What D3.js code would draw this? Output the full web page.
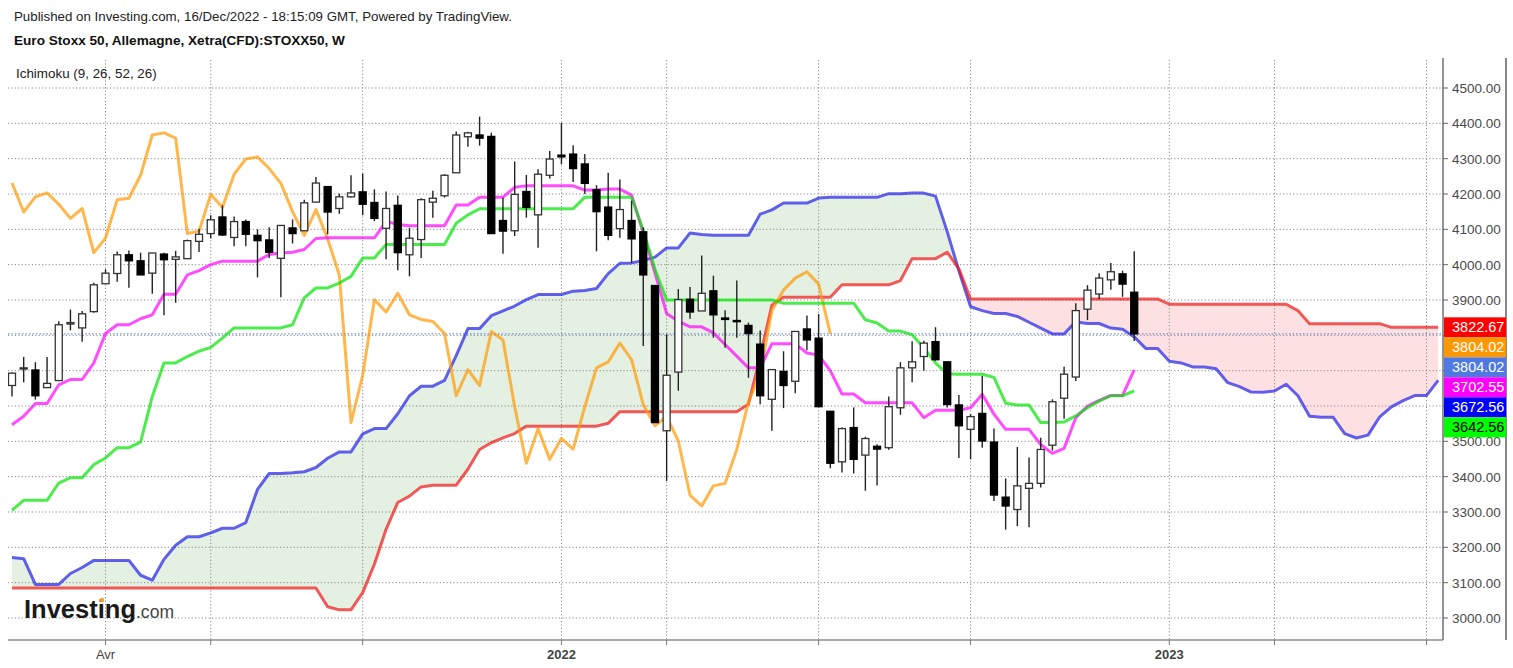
<!DOCTYPE html>
<html>
<head>
<meta charset="utf-8">
<script src="https://cdn.jsdelivr.net/npm/d3@7"></script>
<style>
  body { margin:0; background:#fff; }
  svg text { font-family: Arial, "Liberation Sans", sans-serif; }
</style>
</head>
<body>
<svg id="chart" width="1513" height="668"></svg>
<script>
// weekly candles, Feb 2021 -> Dec 2022
var opens  = [3658,3705,3702,3652,3672,3832,3821,3867,3946,3975,4028,4011,3976,4030,4015,4017,4066,4088,4135,4077,
              4122,4083,4070,4018,4104,4096,4177,4221,4159,4192,4206,4176,4103,4168,4028,4071,4177,4195,4260,4362,
              4367,4363,4125,4096,4207,4141,4253,4310,4313,4285,4212,4163,4102,4125,4093,3941,3530,3696,3902,3869,
              3926,3849,3842,3828,3775,3619,3698,3670,3818,3792,3585,3442,3539,3461,3486,3482,3595,3708,3740,3782,
              3725,3603,3534,3579,3498,3342,3307,3367,3381,3489,3622,3682,3874,3917,3957,3974,3922];
var highs  = [3695,3739,3724,3739,3840,3873,3869,3949,3987,4037,4040,4034,4033,4034,4039,4071,4102,4140,4168,4136,
              4128,4100,4106,4111,4128,4184,4248,4221,4201,4253,4258,4213,4207,4196,4104,4188,4209,4256,4377,4376,
              4419,4373,4190,4292,4254,4270,4322,4401,4338,4313,4225,4260,4241,4181,4106,3941,3803,3931,3937,4026,
              3969,3871,3955,3836,3814,3703,3755,3811,3856,3860,3585,3540,3596,3513,3492,3627,3724,3783,3785,3823,
              3725,3631,3577,3685,3536,3395,3484,3454,3510,3619,3711,3891,3942,3976,4005,3983,4038];
var lows   = [3627,3667,3618,3652,3672,3814,3782,3864,3946,3952,3935,3971,3918,3857,3892,4017,4036,4074,4081,4052,
              4052,3964,4019,3908,4060,4096,4177,4086,4144,4190,4140,4123,4015,3984,3967,4019,4133,4190,4260,4334,
              4337,4088,4031,4081,4133,4048,4244,4284,4234,4200,4038,4069,4076,4005,3770,3553,3388,3643,3847,3869,
              3793,3765,3793,3680,3605,3530,3594,3636,3758,3598,3424,3412,3409,3360,3375,3476,3575,3667,3700,3728,
              3596,3453,3449,3482,3331,3250,3260,3257,3369,3474,3564,3671,3843,3903,3929,3909,3784];
var closes = [3693,3708,3629,3664,3830,3836,3861,3943,3976,4028,4011,3971,4033,4014,4022,4068,4086,4127,4084,4122,
              4086,4068,4035,4111,4088,4175,4231,4149,4192,4203,4171,4131,4159,4034,4075,4184,4188,4253,4367,4373,
              4358,4088,4095,4199,4162,4256,4299,4305,4272,4230,4150,4083,4156,4073,3971,3553,3687,3901,3866,3919,
              3858,3845,3839,3805,3629,3703,3658,3811,3787,3598,3438,3536,3449,3508,3478,3598,3708,3725,3778,3731,
              3604,3544,3570,3501,3348,3317,3374,3381,3477,3612,3690,3870,3928,3962,3980,3945,3804.02];

// Ichimoku (9, 26, 52, 26) lines as drawn
var tenkan = [3547,3571,3607,3607,3660,3675,3675,3722,3805,3830,3830,3847,3858,3916,3916,3971,3983,
              4000,4010,4010,4010,4010,4029,4033,4035,4043,4074,4076,4076,4076,4076,4076,
              4122,4114,4110,4110,4110,4110,4169,4169,4191,4191,4191,4219,4223,4223,4223,4223,4223,4211,4211,4214,4214,4197,4090,3977,
              3862,3840,3824,3824,3807,3774,3741,3708,3708,3776,
              3776,3776,3750,3744,3700,3634,3634,3609,3609,3609,3609,3609,3567,3588,3588,3588,3595,3633,3577,3534,3534,3534,
              3491,3466,3480,3567,3600,3616,3630,3630,3702.55];
var kijun  = [3305,3333,3333,3333,3382,3397,3397,3434,3453,3482,3482,3498,
              3627,3722,3722,3740,3755,3766,3792,3821,3821,3821,3821,3821,3830,
              3906,3934,3934,3948,3967,4019,4019,4057,4057,4057,4057,4057,4057,4117,4141,
              4158,4158,4158,4158,4158,4158,4158,4158,4158,4191,4191,4191,4191,4191,4097,3988,
              3900,3900,3900,3900,3900,3900,3900,3900,3900,3900,
              3891,3891,3891,3891,3891,3891,3891,
              3844,3835,3812,3812,3802,3765,3722,
              3691,3690,3690,3690,3681,3608,3603,3603,3553,3553,3555,3572,3595,3614,3629,3629,3642.56];
// leading span A before the first visible bar (the rest follows from tenkan/kijun)
var spanAHead = [3171,3168,3095,3095,3095,3126,3143,3163,3163,3163,3163,3121,3107,3166,3206,3230,3230,3241,3254,3254,
                 3270,3364,3409,3409,3411,3414];
var spanB  = [3085,3085,3085,3085,3085,3085,3085,3085,3085,3085,3085,3085,3085,3085,3085,3085,3085,3085,3085,3085,
              3085,3085,3085,3085,3085,3085,3085,
              3032,3023,3023,3072,3152,3251,3327,3345,3371,3376,3376,3376,3421,3477,3496,3510,3522,
              3543,3543,3543,3543,3543,3543,3543,3551,
              3584,3584,3584,3584,3584,3584,3584,3584,3584,3584,3584,
              3605,3740,3885,3908,3908,3908,3908,3908,3943,3943,3943,3943,3943,3955,4017,4017,4017,4035,3988,
              3903,3903,3903,3903,3903,3903,3903,3903,3903,3903,3903,3903,3903,3903,3903,3903,3903,
              3888,3888,3888,3888,3888,3888,3888,3888,3888,3888,3888,3870,
              3833,3833,3833,3833,3833,3833,3833,3822.67,3822.67,3822.67,3822.67,3822.67];

var priceTicks = [3000,3100,3200,3300,3400,3500,3600,3700,3800,3900,4000,4100,4200,4300,4400,4500];
var timeTickIdx = [8,17,30,47,56,69,82,99,108,121];
var timeTickLabels = ["Avr","","","2022","","","","2023","",""];

var shift = 26;
var spanA = spanAHead.concat(tenkan.map(function(t,i){ return (t+kijun[i])/2; }));
var chikou = closes.slice(shift);

var svg = d3.select("#chart");
var pLeft = 8, pRight = 1443, pTop = 58, pBottom = 640;

var x = d3.scaleLinear().domain([0,122]).range([12, 12+122*11.69]);
var y = d3.scaleLinear().domain([3000,4500]).range([618,88]);

var defs = svg.append("defs");
defs.append("clipPath").attr("id","plot")
  .append("rect").attr("x",pLeft).attr("y",pTop).attr("width",pRight-pLeft).attr("height",pBottom-pTop);

// cloud fill, split by which span is on top
var bandArea = d3.area().x(function(d,i){return x(i);}).y0(function(d){return y(d[0]);}).y1(function(d){return y(d[1]);});
var band = spanA.map(function(a,i){ return [a, spanB[i]]; });
defs.append("clipPath").attr("id","aboveB").append("path")
  .attr("d", d3.area().x(function(d,i){return x(i);}).y0(function(d){return y(d);}).y1(0)(spanB));
defs.append("clipPath").attr("id","belowB").append("path")
  .attr("d", d3.area().x(function(d,i){return x(i);}).y0(function(d){return y(d);}).y1(668)(spanB));

var plot = svg.append("g").attr("clip-path","url(#plot)");
plot.append("g").attr("clip-path","url(#aboveB)").append("path").attr("d",bandArea(band)).attr("fill","#e4f0e2");
plot.append("g").attr("clip-path","url(#belowB)").append("path").attr("d",bandArea(band)).attr("fill","#fde1e2");

// grid
plot.append("g").selectAll("line").data(priceTicks).enter().append("line")
  .attr("x1",pLeft).attr("x2",pRight).attr("y1",function(d){return y(d);}).attr("y2",function(d){return y(d);})
  .attr("stroke","#8a8a8a").attr("stroke-dasharray","1.2,2.2");
plot.append("g").selectAll("line").data(timeTickIdx).enter().append("line")
  .attr("x1",function(d){return x(d);}).attr("x2",function(d){return x(d);}).attr("y1",60).attr("y2",pBottom)
  .attr("stroke","#8a8a8a").attr("stroke-dasharray","1.2,2.2");

// last price line
plot.append("line").attr("x1",pLeft).attr("x2",pRight).attr("y1",y(3804.02)).attr("y2",y(3804.02))
  .attr("stroke","#5078e0").attr("stroke-dasharray","1.5,2");

// lines
var line = d3.line().x(function(d,i){return x(i);}).y(function(d){return y(d);});
function drawLine(data, color, op){
  plot.append("path").attr("d",line(data)).attr("fill","none").attr("stroke",color)
    .attr("stroke-width",3).attr("stroke-opacity",op).attr("stroke-linejoin","round");
}
drawLine(spanA, "#2020e8", 0.7);
drawLine(spanB, "#ee1515", 0.7);
drawLine(chikou, "#ff9800", 0.7);
drawLine(tenkan, "#ff00ff", 0.7);
drawLine(kijun, "#00e400", 0.7);

// candles
var cw = 7;
var candles = plot.append("g").selectAll("g").data(closes).enter().append("g");
candles.append("line")
  .attr("x1",function(d,i){return x(i);}).attr("x2",function(d,i){return x(i);})
  .attr("y1",function(d,i){return y(highs[i]);}).attr("y2",function(d,i){return y(lows[i]);})
  .attr("stroke","#222").attr("stroke-width",1.4);
candles.append("rect")
  .attr("x",function(d,i){return x(i)-cw/2;}).attr("width",cw)
  .attr("y",function(d,i){return y(Math.max(opens[i],d));})
  .attr("height",function(d,i){return Math.max(1.2, Math.abs(y(opens[i])-y(d)));})
  .attr("fill",function(d,i){return d>=opens[i] ? "#fff" : "#000";})
  .attr("stroke",function(d,i){return d>=opens[i] ? "#333" : "#000";})
  .attr("stroke-width",1.3);

// axes frame
svg.append("line").attr("x1",pLeft).attr("x2",pRight).attr("y1",pBottom).attr("y2",pBottom).attr("stroke","#8c8c8c").attr("stroke-width",1.6);
svg.append("line").attr("x1",pRight).attr("x2",pRight).attr("y1",pTop).attr("y2",pBottom).attr("stroke","#666").attr("stroke-width",1.4);
svg.append("line").attr("x1",1506).attr("x2",1506).attr("y1",pTop).attr("y2",pBottom).attr("stroke","#555").attr("stroke-width",1.4);

// value boxes on the right (stacked downwards)
var boxes = [
  {v:3822.67, fill:"#ff0000", txt:"#fff"},
  {v:3804.02, fill:"#ff9800", txt:"#fff"},
  {v:3804.02, fill:"#4f78e0", txt:"#fff"},
  {v:3702.55, fill:"#ff00ff", txt:"#fff"},
  {v:3672.56, fill:"#0000ff", txt:"#fff"},
  {v:3642.56, fill:"#00ff00", txt:"#000"}
];
var prev = -100;
boxes.forEach(function(b){ b.top = Math.max(y(b.v)-10, prev+20); prev = b.top; });
var boxTop = boxes[0].top, boxBottom = prev+20;

// price axis (labels hidden behind the boxes are skipped)
var visTicks = priceTicks.filter(function(d){ return y(d)+6 < boxTop || y(d) > boxBottom; });
var yAx = svg.append("g");
yAx.selectAll("line").data(priceTicks).enter().append("line")
  .attr("x1",pRight).attr("x2",pRight+5).attr("y1",function(d){return y(d);}).attr("y2",function(d){return y(d);})
  .attr("stroke","#666");
yAx.selectAll("text").data(visTicks).enter().append("text")
  .attr("x",1452).attr("y",function(d){return y(d)+5;}).attr("font-size",13.5).attr("fill","#4a4a4a")
  .text(function(d){return d3.format(".2f")(d);});

boxes.forEach(function(b){
  svg.append("rect").attr("x",pRight+1).attr("y",b.top).attr("width",1506-pRight-1).attr("height",20).attr("fill",b.fill);
  svg.append("text").attr("x",1452).attr("y",b.top+15).attr("font-size",14.5).attr("fill",b.txt).text(d3.format(".2f")(b.v));
});

// time axis
var xAx = svg.append("g");
xAx.selectAll("line").data(timeTickIdx).enter().append("line")
  .attr("x1",function(d){return x(d);}).attr("x2",function(d){return x(d);}).attr("y1",pBottom).attr("y2",pBottom+5)
  .attr("stroke","#777");
xAx.selectAll("text").data(timeTickIdx).enter().append("text")
  .attr("x",function(d){return x(d);}).attr("y",659).attr("text-anchor","middle").attr("font-size",13)
  .attr("font-weight",function(d,i){return timeTickLabels[i]=="Avr" ? "normal" : "bold";})
  .attr("fill","#444").text(function(d,i){return timeTickLabels[i];});

// titles
svg.append("text").attr("x",14).attr("y",21).attr("font-size",13.3).attr("fill","#222")
  .text("Published on Investing.com, 16/Dec/2022 - 18:15:09 GMT, Powered by TradingView.");
svg.append("text").attr("x",14).attr("y",45).attr("font-size",13.6).attr("font-weight","bold").attr("fill","#111")
  .text("Euro Stoxx 50, Allemagne, Xetra(CFD):STOXX50, W");
svg.append("text").attr("x",16).attr("y",78).attr("font-size",13.4).attr("fill","#222")
  .text("Ichimoku (9, 26, 52, 26)");

// investing.com mark
svg.append("text").attr("x",24).attr("y",618).attr("font-size",25).attr("font-weight","bold").attr("fill","#1a1a1a")
  .attr("textLength",112).attr("lengthAdjust","spacingAndGlyphs").text("Investing");
svg.append("text").attr("x",136).attr("y",618).attr("font-size",18).attr("fill","#444")
  .attr("textLength",38).attr("lengthAdjust","spacingAndGlyphs").text(".com");
svg.append("circle").attr("cx",102).attr("cy",600).attr("r",2.2).attr("fill","#f7a21b");
</script>
</body>
</html>
